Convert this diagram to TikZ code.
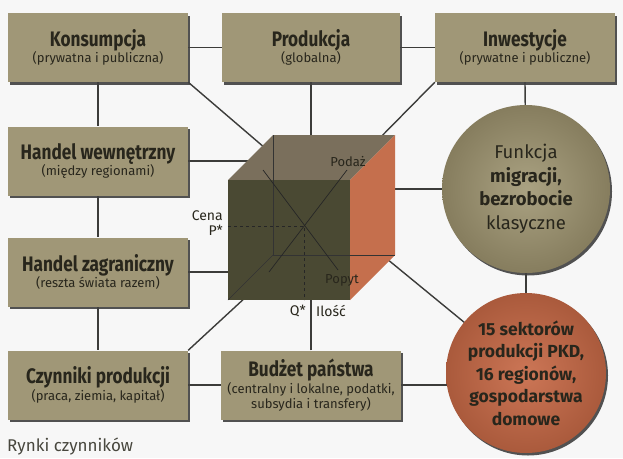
\documentclass[tikz,border=0pt]{standalone}
\usepackage{fontspec}
\setmainfont{Fira Sans}
\newfontfamily\waski[FakeStretch=0.82]{Fira Sans}
\usetikzlibrary{shadows,backgrounds}
\definecolor{khaki}{RGB}{160,151,119}
\definecolor{ink}{RGB}{40,38,28}
\definecolor{wire}{RGB}{60,60,58}
\definecolor{cubetop}{RGB}{122,111,92}
\definecolor{cubefront}{RGB}{74,73,51}
\definecolor{cubeside}{RGB}{197,111,77}
\definecolor{rust}{RGB}{204,118,86}
\definecolor{rustdark}{RGB}{170,90,60}
\definecolor{tan}{RGB}{170,162,130}
\definecolor{tandark}{RGB}{134,125,94}

\def\tyt#1{{\waski\fontsize{21}{23}\selectfont\bfseries #1}}
\def\pod#1{{\fontsize{13}{15}\selectfont #1}}

\begin{document}
\begin{tikzpicture}[x=1pt,y=-1pt,
    box/.style={rectangle,fill=khaki,minimum width=180pt,minimum height=69pt,
        align=center,text=ink,inner sep=2pt,
        drop shadow={shadow xshift=2pt,shadow yshift=-2.5pt,fill=black!75,opacity=.9}},
    kolo/.style={circle,align=center,text=ink,inner sep=0pt,
        drop shadow={shadow xshift=2pt,shadow yshift=-2.5pt,fill=black!75,opacity=.9}},
    link/.style={draw=wire,line width=1.4pt},
    etykieta/.style={text=ink,inner sep=1pt,font=\fontsize{14}{15}\selectfont}]
    \useasboundingbox (0,0) rectangle (623,458);
    \begin{scope}[on background layer]
        \fill[black!3] (0,0) rectangle (623,458);
    \end{scope}

    % pola
    \node[box] (kons) at (98,47.5) {\tyt{Konsumpcja}\\\pod{(prywatna i publiczna)}};
    \node[box,minimum width=178pt] (prod) at (311,47.5) {\tyt{Produkcja}\\\pod{(globalna)}};
    \node[box] (inw) at (525,47.5) {\tyt{Inwestycje}\\\pod{(prywatne i publiczne)}};
    \node[box] (hwew) at (98,161) {\tyt{Handel wewnętrzny}\\\pod{(między regionami)}};
    \node[box] (hzag) at (98,272) {\tyt{Handel zagraniczny}\\\pod{(reszta świata razem)}};
    \node[box] (czyn) at (98,385) {\tyt{Czynniki produkcji}\\\pod{(praca, ziemia, kapitał)}};
    \node[box,inner sep=1pt] (budz) at (311,385) {\tyt{Budżet państwa}\\
        \pod{(centralny i lokalne, podatki,}\\\pod{subsydia i transfery)}};
    \node[kolo,minimum size=168pt,inner color=tan,outer color=tandark,
        font=\fontsize{18.5}{23.5}\selectfont] (funk) at (526,189)
        {Funkcja\\\textbf{migracji,}\\\textbf{bezrobocie}\\klasyczne};
    \node[kolo,minimum size=160pt,inner color=rust,outer color=rustdark,
        font=\fontsize{17.5}{22.5}\selectfont\bfseries] (sekt) at (526,373)
        {15 sektorów\\produkcji PKD,\\16 regionów,\\gospodarstwa\\domowe};

    % szescian
    \def\dx{45}
    \coordinate (a) at (228,180);
    \coordinate (b) at (350,180);
    \coordinate (c) at (350,300);
    \coordinate (d) at (228,300);
    \coordinate (e) at (228+\dx,180-\dx);
    \coordinate (f) at (350+\dx,180-\dx);
    \coordinate (g) at (350+\dx,300-\dx);
    \coordinate (h) at (228+\dx,300-\dx);
    \coordinate (q) at (304,226);
    \fill[cubetop] (a) -- (e) -- (f) -- (b) -- cycle;
    \fill[cubefront] (a) -- (b) -- (c) -- (d) -- cycle;
    \fill[cubeside] (b) -- (f) -- (g) -- (c) -- cycle;
    \draw[black!80,line width=0.6pt] (e) -- (h) -- (g);
    \draw[black!80,line width=0.6pt] (h) -- (d);
    \draw[black!85,line width=0.6pt,dashed] (a |- q) -- (q) -- (q |- d);
    \draw[black!85,line width=0.7pt] (263,170) -- (338,270);
    \draw[black!85,line width=0.7pt] (269,272) -- (347,170);
    \node[etykieta,font=\fontsize{13}{15}\selectfont] (podaz) at (348,162) {Podaż};
    \node[etykieta,font=\fontsize{13}{15}\selectfont] (popyt) at (342,280) {Popyt};
    \node[etykieta,anchor=east,align=right] (cena) at (224,223) {Cena\\P*};
    \node[etykieta,anchor=east] (qs) at (307,311) {Q*};
    \node[etykieta,anchor=west] (ilosc) at (315,311) {Ilość};
    \node[anchor=west,inner sep=0pt,text=ink!85,font=\fontsize{17}{19}\selectfont]
        (rynki) at (7,446) {Rynki czynników};

    % polaczenia
    \coordinate (k1) at (300,178);
    \coordinate (k2) at (367,151);
    \coordinate (k3) at (260,284);
    \coordinate (k4) at (370,245);
    \begin{scope}[on background layer]
        \draw[link] (kons) -- (prod);
        \draw[link] (prod) -- (inw);
        \draw[link] (kons) -- (hwew);
        \draw[link] (hwew) -- (hzag);
        \draw[link] (hzag) -- (czyn);
        \draw[link] (czyn) -- (budz);
        \draw[link] (budz.east) -- (budz.east -| sekt.center);
        \draw[link] (inw.south) -- (funk.center);
        \draw[link] (funk.center) -- (sekt.center);
        \draw[link] (prod.south) -- (prod.south |- q);
        \draw[link] (budz.north) -- (budz.north |- q);
        \draw[link] (hwew.east) -- (hwew.east -| h);
        \draw[link] (hzag.east) -- (hzag.east -| q);
        \draw[link] (funk.center) -- (funk.center -| q);
        \draw[link] (kons.south east) -- (k1);
        \draw[link] (inw.south west) -- (k2);
        \draw[link] (czyn.north east) -- (k3);
        \draw[link] (k4) -- (sekt.center);
    \end{scope}
\end{tikzpicture}
\end{document}
